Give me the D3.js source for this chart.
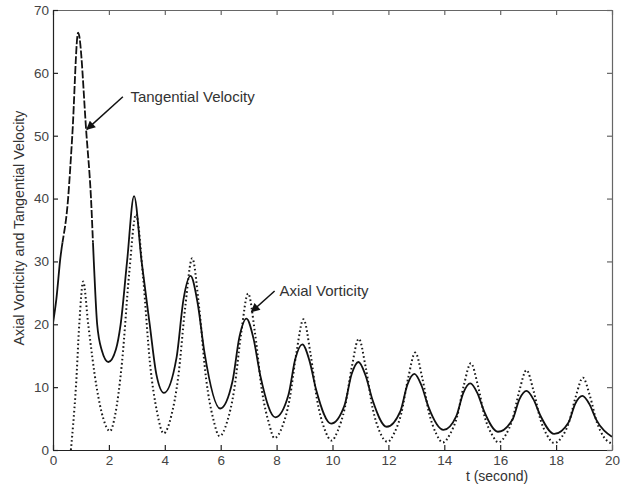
<!DOCTYPE html>
<html>
<head>
  <style>
    body { margin: 0; background: #fff; }
    text { font-family: "Liberation Sans", Arial, sans-serif; }
  </style>
</head>
<body>
  <svg id="chart" width="624" height="484"></svg>
  <script src="https://d3js.org/d3.v7.min.js"></script>
  <script>
    // tangential velocity (solid, dashed-looking on the first peak)
    const tanT = [0, 0.12, 0.25, 0.54, 0.69, 0.90, 1.20, 1.36, 1.46, 1.58, 1.75, 1.98,
      2.25, 2.42, 2.65, 2.90, 3.17, 3.46, 3.70, 3.97,
      4.42, 4.67, 4.92, 5.17, 5.42, 5.98,
      6.42, 6.67, 6.92, 7.17, 7.42, 7.96,
      8.42, 8.67, 8.92, 9.17, 9.42, 9.95,
      10.43, 10.68, 10.93, 11.18, 11.43, 11.94,
      12.43, 12.68, 12.93, 13.18, 13.43, 13.97,
      14.43, 14.68, 14.93, 15.18, 15.43, 15.92,
      16.44, 16.69, 16.94, 17.19, 17.44, 17.93,
      18.44, 18.69, 18.94, 19.19, 19.44, 20]
    const tanV = [20.2, 24, 30, 40, 50, 66.4, 50, 40, 30, 20, 15.8, 14.0,
      16, 20, 30, 40.4, 30, 20, 12, 9.1,
      14.7, 24.0, 27.7, 23.5, 15.5, 6.6,
      10.9, 18.0, 20.9, 17.8, 11.8, 5.2,
      8.7, 14.5, 16.8, 14.3, 9.5, 4.2,
      7.1, 12.0, 14.0, 11.9, 8.0, 3.7,
      6.2, 10.4, 12.1, 10.3, 6.9, 3.2,
      5.4, 9.1, 10.6, 9.1, 6.1, 2.9,
      4.85, 8.1, 9.4, 8.05, 5.45, 2.55,
      4.35, 7.4, 8.6, 7.3, 4.8, 2.1]

    // axial vorticity (dotted)
    const axT = [0.64, 0.72, 0.82, 0.94, 1.08, 1.26, 1.56, 1.80, 2.04,
      2.22, 2.47, 2.72, 2.97, 3.22, 3.47, 3.72, 3.96,
      4.23, 4.48, 4.73, 4.98, 5.23, 5.48, 5.73, 5.96,
      6.23, 6.48, 6.73, 6.98, 7.23, 7.48, 7.73, 7.92,
      8.21, 8.46, 8.71, 8.96, 9.21, 9.46, 9.71, 9.97,
      10.19, 10.44, 10.69, 10.94, 11.19, 11.44, 11.69, 11.97,
      12.21, 12.46, 12.71, 12.96, 13.21, 13.46, 13.71, 13.95,
      14.20, 14.45, 14.70, 14.95, 15.20, 15.45, 15.70, 15.94,
      16.19, 16.44, 16.69, 16.94, 17.19, 17.44, 17.69, 17.93,
      18.21, 18.46, 18.71, 18.96, 19.21, 19.46, 19.71, 20]
    const axV = [0, 4, 10, 20, 26.8, 20, 10, 5, 3.0,
      5.5, 14.0, 27.8, 37.5, 27.7, 13.8, 6.1, 2.65,
      5.4, 11.6, 22.7, 30.5, 22.6, 11.25, 5.0, 2.2,
      4.5, 9.5, 18.5, 24.9, 18.5, 9.3, 4.2, 1.9,
      3.8, 7.95, 15.5, 20.8, 15.4, 7.7, 3.4, 1.5,
      3.1, 6.7, 13.2, 17.7, 13.1, 6.55, 2.9, 1.3,
      2.7, 5.8, 11.5, 15.5, 11.5, 5.8, 2.6, 1.2,
      2.5, 5.2, 10.3, 13.8, 10.3, 5.2, 2.5, 1.2,
      2.35, 4.9, 9.5, 12.7, 9.45, 4.85, 2.25, 1.1,
      2.1, 4.4, 8.6, 11.5, 8.6, 4.4, 2.05, 1.0]

    const xTicks = d3.range(0, 21, 2)
    const yTicks = d3.range(0, 71, 10)

    const margin = { top: 10, right: 12, bottom: 34, left: 53 }
    const W = 624, H = 484
    const w = W - margin.left - margin.right
    const h = H - margin.top - margin.bottom

    const svg = d3.select('#chart')
    const g = svg.append('g').attr('transform', `translate(${margin.left},${margin.top})`)

    const x = d3.scaleLinear().domain([0, 20]).range([0, w])
    const y = d3.scaleLinear().domain([0, 70]).range([h, 0])

    const tanData = tanT.map((t, i) => [t, tanV[i]])
    const axData = axT.map((t, i) => [t, axV[i]])

    const line = d3.line()
      .x(d => x(d[0]))
      .y(d => y(d[1]))
      .curve(d3.curveMonotoneX)

    const defs = svg.append('defs')
    // first peak region, drawn dashed
    const px0 = x(0.2), px1 = x(1.62), py0 = y(70), py1 = y(33)
    defs.append('clipPath').attr('id', 'peakclip')
      .append('rect').attr('x', px0).attr('y', py0).attr('width', px1 - px0).attr('height', py1 - py0)
    defs.append('clipPath').attr('id', 'restclip')
      .append('path')
      .attr('clip-rule', 'evenodd')
      .attr('d', `M0,0H${w}V${h}H0Z M${px0},${py0}H${px1}V${py1}H${px0}Z`)
    defs.append('marker')
      .attr('id', 'arrow')
      .attr('viewBox', '0 0 10 10')
      .attr('refX', 9).attr('refY', 5)
      .attr('markerWidth', 10).attr('markerHeight', 9)
      .attr('markerUnits', 'userSpaceOnUse')
      .attr('orient', 'auto')
      .append('path').attr('d', 'M0,0L10,5L0,10Z').attr('fill', '#111')

    g.append('path').datum(axData)
      .attr('d', line)
      .attr('fill', 'none')
      .attr('stroke', '#1a1a1a')
      .attr('stroke-width', 2)
      .attr('stroke-dasharray', '1.6,2.6')

    g.append('path').datum(tanData)
      .attr('d', line)
      .attr('fill', 'none')
      .attr('stroke', '#111')
      .attr('stroke-width', 1.8)
      .attr('clip-path', 'url(#restclip)')

    g.append('path').datum(tanData)
      .attr('d', line)
      .attr('fill', 'none')
      .attr('stroke', '#111')
      .attr('stroke-width', 1.8)
      .attr('stroke-dasharray', '8,2')
      .attr('clip-path', 'url(#peakclip)')

    // axes (box with inward ticks like the original)
    const tl = 5
    const styleAxis = (sel, col) => {
      sel.select('.domain').attr('stroke', col).attr('stroke-width', 1.2)
      sel.selectAll('.tick line').attr('stroke', col).attr('stroke-width', 1.2)
      sel.selectAll('.tick text').attr('fill', '#444').style('font-size', '13.5px')
    }
    const xb = g.append('g').attr('transform', `translate(0,${h})`)
      .call(d3.axisBottom(x).tickValues(xTicks).tickSizeInner(-tl).tickSizeOuter(0).tickPadding(5))
    styleAxis(xb, '#222')
    const xt = g.append('g')
      .call(d3.axisTop(x).tickValues(xTicks).tickSizeInner(-tl).tickSizeOuter(0).tickFormat(''))
    styleAxis(xt, '#666')
    const yl = g.append('g')
      .call(d3.axisLeft(y).tickValues(yTicks).tickSizeInner(-tl).tickSizeOuter(0).tickPadding(4))
    styleAxis(yl, '#222')
    const yr = g.append('g').attr('transform', `translate(${w},0)`)
      .call(d3.axisRight(y).tickValues(yTicks).tickSizeInner(-tl).tickSizeOuter(0).tickFormat(''))
    styleAxis(yr, '#666')

    // axis labels
    svg.append('text')
      .attr('x', 497).attr('y', 481)
      .attr('text-anchor', 'middle')
      .attr('fill', '#333')
      .style('font-size', '14px')
      .text('t (second)')
    svg.append('text')
      .attr('transform', 'translate(24,228) rotate(-90)')
      .attr('text-anchor', 'middle')
      .attr('fill', '#333')
      .style('font-size', '14.3px')
      .text('Axial Vorticity and Tangential Velocity')

    // annotations
    const notes = [
      { label: 'Tangential Velocity', tx: 2.77, ty: 56.2, x1: 2.5, y1: 56.2, x2: 1.21, y2: 51.0 },
      { label: 'Axial Vorticity', tx: 8.1, ty: 25.3, x1: 7.93, y1: 25.3, x2: 7.1, y2: 22.0 }
    ]
    notes.forEach(n => {
      g.append('line')
        .attr('x1', x(n.x1)).attr('y1', y(n.y1))
        .attr('x2', x(n.x2)).attr('y2', y(n.y2))
        .attr('stroke', '#111').attr('stroke-width', 1.5)
        .attr('marker-end', 'url(#arrow)')
      g.append('text')
        .attr('x', x(n.tx)).attr('y', y(n.ty) + 5)
        .attr('fill', '#333')
        .style('font-size', '15px')
        .text(n.label)
    })
  </script>
</body>
</html>
